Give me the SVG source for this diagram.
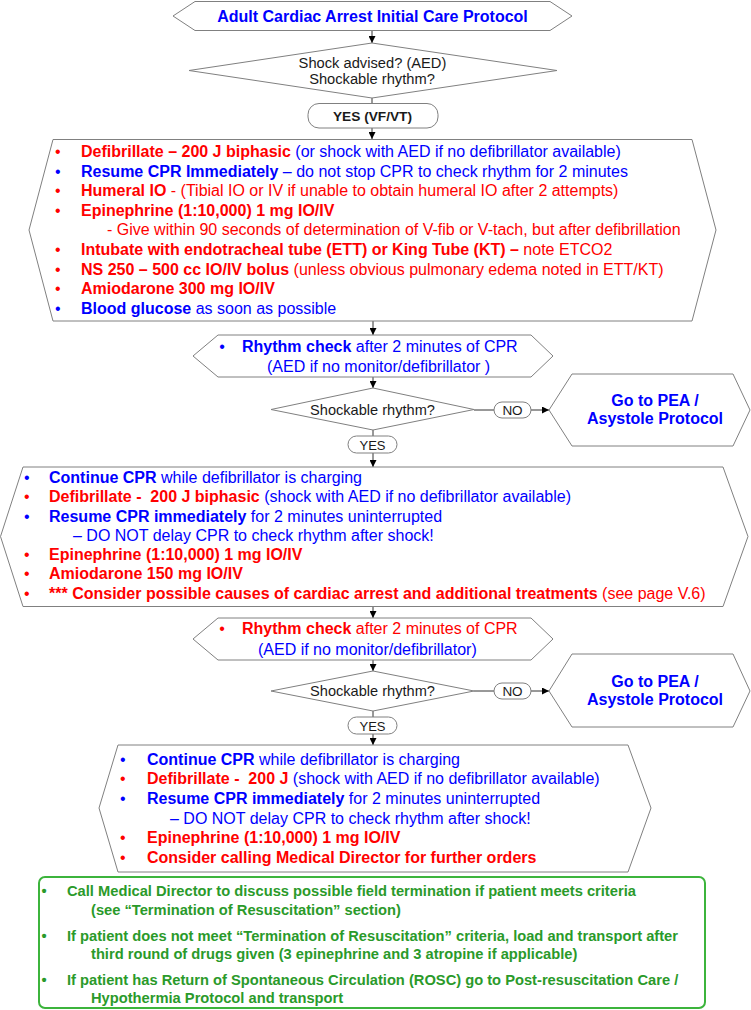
<svg xmlns="http://www.w3.org/2000/svg" width="751" height="1010" viewBox="0 0 751 1010">
<defs>
<marker id="ah" viewBox="0 0 10 10" refX="10" refY="5" markerWidth="7" markerHeight="7" markerUnits="userSpaceOnUse" orient="auto">
<path d="M0,0 L10,5 L0,10 z" fill="#000"/>
</marker>
<style>
.sh{fill:#fff;stroke:#808080;stroke-width:1}
.gb{fill:#fff;stroke:#3cb43c;stroke-width:2}
.t{font-family:"Liberation Sans",Arial,sans-serif;font-size:16px}
.b{font-weight:bold}
.r{fill:#ff0000}
.u{fill:#0000ff}
.k{fill:#1a1a1a}
.g{fill:#2a9a2a;font-size:14.7px;font-weight:bold}
.c{text-anchor:middle}
.cn line{stroke:#333;stroke-width:1}
.ar{marker-end:url(#ah)}
</style>
</defs>
<rect width="751" height="1010" fill="#fff"/>

<g id="connectors" class="cn">
<line class="ar" x1="372" y1="31" x2="372" y2="43"/>
<line x1="372" y1="98" x2="372" y2="103"/>
<line class="ar" x1="372" y1="128" x2="372" y2="139"/>
<line class="ar" x1="373" y1="321" x2="373" y2="335"/>
<line class="ar" x1="373" y1="377" x2="373" y2="388"/>
<line x1="474" y1="410" x2="494" y2="410"/>
<line class="ar" x1="531" y1="410" x2="549" y2="410"/>
<line x1="373" y1="430" x2="373" y2="436"/>
<line class="ar" x1="373" y1="453" x2="373" y2="467"/>
<line class="ar" x1="373" y1="607" x2="373" y2="618"/>
<line class="ar" x1="373" y1="660" x2="373" y2="671"/>
<line x1="474" y1="691" x2="494" y2="691"/>
<line class="ar" x1="531" y1="691" x2="549" y2="691"/>
<line x1="373" y1="711" x2="373" y2="717"/>
<line class="ar" x1="373" y1="734" x2="373" y2="745"/>
</g>

<g id="title">
<polygon class="sh" points="173,16 195,1.5 550,1.5 572,16 550,30.5 195,30.5"/>
<text class="t b u c" x="372.5" y="21.5">Adult Cardiac Arrest Initial Care Protocol</text>
</g>

<g id="decision1">
<polygon class="sh" points="372,43 557,70.5 372,98 189,70.5"/>
<text class="t k c" style="font-size:14.7px" x="372.5" y="68">Shock advised? (AED)</text>
<text class="t k c" style="font-size:14.7px" x="372" y="84">Shockable rhythm?</text>
</g>

<g id="yes1">
<rect class="sh" x="308" y="103.5" width="130" height="24.5" rx="11"/>
<text class="t b k c" style="font-size:13.7px" x="372.5" y="120.5">YES (VF/VT)</text>
</g>

<g id="treatment1">
<polygon class="sh" points="53,139.5 692,139.5 716,230 692,321 53,321 29,230"/>
<text class="t" xml:space="preserve">
<tspan class="r" x="60" y="157" text-anchor="middle">•</tspan>
<tspan class="r b" x="81" y="157">Defibrillate – 200 J biphasic</tspan><tspan class="u"> (or shock with AED if no defibrillator available)</tspan>
<tspan class="u" x="60" y="176.6" text-anchor="middle">•</tspan>
<tspan class="u b" x="81" y="176.6">Resume CPR Immediately</tspan><tspan class="u"> – do not stop CPR to check rhythm for 2 minutes</tspan>
<tspan class="r" x="60" y="196.2" text-anchor="middle">•</tspan>
<tspan class="r b" x="81" y="196.2">Humeral IO</tspan><tspan class="r"> - (Tibial IO or IV if unable to obtain humeral IO after 2 attempts)</tspan>
<tspan class="r" x="60" y="215.8" text-anchor="middle">•</tspan>
<tspan class="r b" x="81" y="215.8">Epinephrine (1:10,000) 1 mg IO/IV</tspan>
<tspan class="r" x="107" y="235.4">- Give within 90 seconds of determination of V-fib or V-tach, but after defibrillation</tspan>
<tspan class="r" x="60" y="255" text-anchor="middle">•</tspan>
<tspan class="r b" x="81" y="255">Intubate with endotracheal tube (ETT) or King Tube (KT) –</tspan><tspan class="r"> note ETCO2</tspan>
<tspan class="r" x="60" y="274.6" text-anchor="middle">•</tspan>
<tspan class="r b" x="81" y="274.6">NS 250 – 500 cc IO/IV bolus</tspan><tspan class="r"> (unless obvious pulmonary edema noted in ETT/KT)</tspan>
<tspan class="r" x="60" y="294.2" text-anchor="middle">•</tspan>
<tspan class="r b" x="81" y="294.2">Amiodarone 300 mg IO/IV</tspan>
<tspan class="u" x="60" y="313.8" text-anchor="middle">•</tspan>
<tspan class="u b" x="81" y="313.8">Blood glucose</tspan><tspan class="u"> as soon as possible</tspan>
</text>
</g>

<g id="rhythm1">
<polygon class="sh" points="193,356 218,335 531,335 553,356 531,377 218,377"/>
<text class="t" xml:space="preserve"><tspan class="u" x="222" y="352" text-anchor="middle">•</tspan><tspan class="u b" x="242" y="352">Rhythm check</tspan><tspan class="u"> after 2 minutes of CPR</tspan></text>
<text class="t u" x="267" y="371.5">(AED if no monitor/defibrillator )</text>
</g>

<g id="decision2">
<polygon class="sh" points="373,388 474,409.5 373,430 271,409.5"/>
<text class="t k c" style="font-size:14.6px" x="372.5" y="414.5">Shockable rhythm?</text>
</g>

<g id="no1">
<rect class="sh" x="494" y="402" width="37" height="16" rx="8"/>
<text class="t k c" style="font-size:13.5px" x="512.5" y="415">NO</text>
</g>

<g id="pea1">
<polygon class="sh" points="549,410 572,374 733,374 750,410 733,446 572,446"/>
<text class="t b u c" x="655" y="405.5">Go to PEA /</text>
<text class="t b u c" x="655" y="424">Asystole Protocol</text>
</g>

<g id="yes2">
<rect class="sh" x="348" y="436" width="49" height="17" rx="8.5"/>
<text class="t k c" style="font-size:13px" x="372.5" y="449.5">YES</text>
</g>

<g id="treatment2">
<polygon class="sh" points="23,467 723,467 748,536.5 723,606.5 23,606.5 0.5,536.5"/>
<text class="t" xml:space="preserve">
<tspan class="u" x="29" y="483" text-anchor="middle">•</tspan>
<tspan class="u b" x="49" y="483">Continue CPR</tspan><tspan class="u"> while defibrillator is charging</tspan>
<tspan class="r" x="29" y="502.3" text-anchor="middle">•</tspan>
<tspan class="r b" x="49" y="502.3">Defibrillate -  200 J biphasic</tspan><tspan class="u"> (shock with AED if no defibrillator available)</tspan>
<tspan class="u" x="29" y="521.5" text-anchor="middle">•</tspan>
<tspan class="u b" x="49" y="521.5">Resume CPR immediately</tspan><tspan class="u"> for 2 minutes uninterrupted</tspan>
<tspan class="u" x="73" y="540.8">– DO NOT delay CPR to check rhythm after shock!</tspan>
<tspan class="r" x="29" y="560" text-anchor="middle">•</tspan>
<tspan class="r b" x="49" y="560">Epinephrine (1:10,000) 1 mg IO/IV</tspan>
<tspan class="r" x="29" y="579.3" text-anchor="middle">•</tspan>
<tspan class="r b" x="49" y="579.3">Amiodarone 150 mg IO/IV</tspan>
<tspan class="r" x="29" y="598.5" text-anchor="middle">•</tspan>
<tspan class="r b" x="49" y="598.5">*** Consider possible causes of cardiac arrest and additional treatments</tspan><tspan class="r"> (see page V.6)</tspan>
</text>
</g>

<g id="rhythm2">
<polygon class="sh" points="193,639 218,618 531,618 553,639 531,660 218,660"/>
<text class="t" xml:space="preserve"><tspan class="r" x="222" y="634" text-anchor="middle">•</tspan><tspan class="r b" x="242" y="634">Rhythm check</tspan><tspan class="r"> after 2 minutes of CPR</tspan></text>
<text class="t u" x="258" y="654.5">(AED if no monitor/defibrillator)</text>
</g>

<g id="decision3">
<polygon class="sh" points="373,671 474,691 373,711 271,691"/>
<text class="t k c" style="font-size:14.6px" x="372.5" y="696">Shockable rhythm?</text>
</g>

<g id="no2">
<rect class="sh" x="494" y="683" width="37" height="16" rx="8"/>
<text class="t k c" style="font-size:13.5px" x="512.5" y="696">NO</text>
</g>

<g id="pea2">
<polygon class="sh" points="549,691 572,654 733,654 750,691 733,727 572,727"/>
<text class="t b u c" x="655" y="686.5">Go to PEA /</text>
<text class="t b u c" x="655" y="705">Asystole Protocol</text>
</g>

<g id="yes3">
<rect class="sh" x="348" y="717" width="49" height="17" rx="8.5"/>
<text class="t k c" style="font-size:13px" x="372.5" y="730.5">YES</text>
</g>

<g id="treatment3">
<polygon class="sh" points="118,745 628,745 651,808 628,872 118,872 99,808"/>
<text class="t" xml:space="preserve">
<tspan class="u" x="125" y="764.5" text-anchor="middle">•</tspan>
<tspan class="u b" x="147" y="764.5">Continue CPR</tspan><tspan class="u"> while defibrillator is charging</tspan>
<tspan class="r" x="125" y="784.2" text-anchor="middle">•</tspan>
<tspan class="r b" x="147" y="784.2">Defibrillate -  200 J</tspan><tspan class="u"> (shock with AED if no defibrillator available)</tspan>
<tspan class="u" x="125" y="803.9" text-anchor="middle">•</tspan>
<tspan class="u b" x="147" y="803.9">Resume CPR immediately</tspan><tspan class="u"> for 2 minutes uninterrupted</tspan>
<tspan class="u" x="170" y="823.6">– DO NOT delay CPR to check rhythm after shock!</tspan>
<tspan class="r" x="125" y="843.3" text-anchor="middle">•</tspan>
<tspan class="r b" x="147" y="843.3">Epinephrine (1:10,000) 1 mg IO/IV</tspan>
<tspan class="r" x="125" y="863" text-anchor="middle">•</tspan>
<tspan class="r b" x="147" y="863">Consider calling Medical Director for further orders</tspan>
</text>
</g>

<g id="final-notes">
<rect class="gb" x="39" y="877" width="666" height="131" rx="6"/>
<text class="t g" xml:space="preserve">
<tspan x="46" y="896" text-anchor="middle">•</tspan>
<tspan x="67" y="896">Call Medical Director to discuss possible field termination if patient meets criteria</tspan>
<tspan x="91" y="914.5">(see “Termination of Resuscitation” section)</tspan>
<tspan x="46" y="941" text-anchor="middle">•</tspan>
<tspan x="67" y="941">If patient does not meet “Termination of Resuscitation” criteria, load and transport after</tspan>
<tspan x="91" y="958.5">third round of drugs given (3 epinephrine and 3 atropine if applicable)</tspan>
<tspan x="46" y="985" text-anchor="middle">•</tspan>
<tspan x="67" y="985">If patient has Return of Spontaneous Circulation (ROSC) go to Post-resuscitation Care /</tspan>
<tspan x="91" y="1003">Hypothermia Protocol and transport</tspan>
</text>
</g>
</svg>
